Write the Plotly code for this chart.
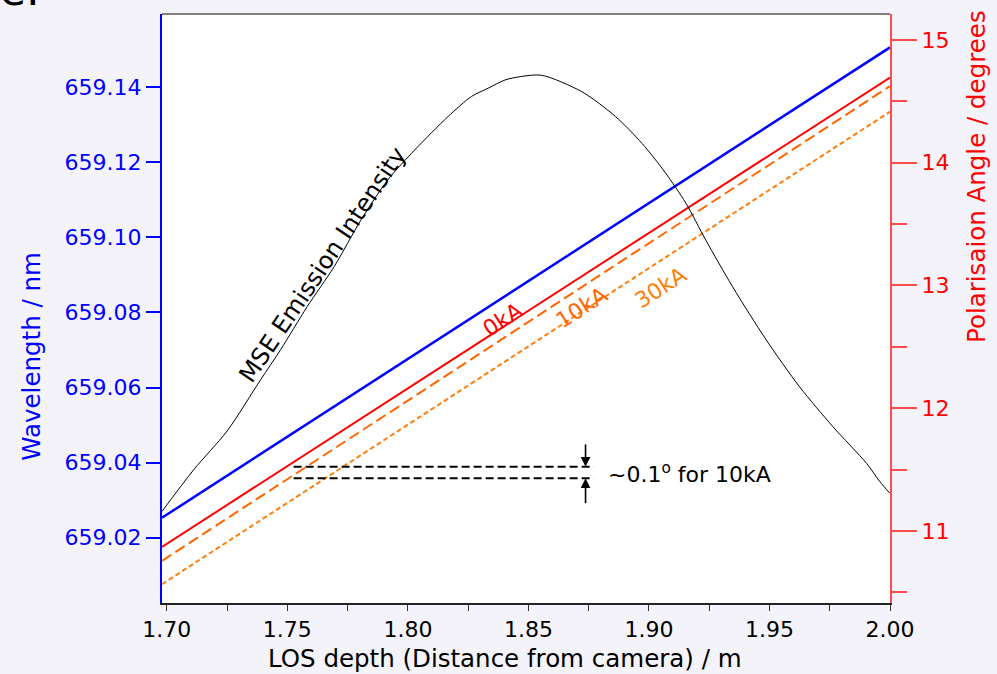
import plotly.graph_objects as go

# ---------------- data ----------------
depth_ends = [1.698, 2.0]                    # LOS depth / m (line end points)
wavelength = [659.0253, 659.1506]            # nm (blue, left axis)
angle_0kA = [10.870, 14.694]                 # degrees (right axis)
angle_10kA = [10.756, 14.625]
angle_30kA = [10.566, 14.416]

mse_depth = [1.6979, 1.7111, 1.725, 1.7389, 1.7472, 1.7582, 1.7694, 1.7805,
             1.7916, 1.8028, 1.8167, 1.8264, 1.8333, 1.8403, 1.8472, 1.8555,
             1.8722, 1.8861, 1.8972, 1.9069, 1.9153, 1.9236, 1.9347, 1.9486,
             1.9625, 1.9764, 1.9903, 1.9958, 2.0]
mse_intensity = [0.155, 0.226, 0.292, 0.379, 0.430, 0.503, 0.571, 0.650,
                 0.718, 0.769, 0.826, 0.860, 0.874, 0.888, 0.894, 0.896,
                 0.868, 0.826, 0.780, 0.730, 0.679, 0.616, 0.537, 0.447,
                 0.367, 0.299, 0.237, 0.206, 0.186]

x_ticks = [1.70, 1.75, 1.80, 1.85, 1.90, 1.95, 2.00]
wl_ticks = [659.02, 659.04, 659.06, 659.08, 659.10, 659.12, 659.14]
ang_ticks = [11, 12, 13, 14, 15]

bracket_x = [1.7526, 1.8771]                 # "~0.1 deg" marker lines
bracket_y = [11.524, 11.429]
arrow_x = 1.8737
arrow_tail = [11.716, 11.214]

FONT = "DejaVu Sans"
BLUE = "#0000ff"
RED = "#ff0000"
RED_AX = "#ff4d4d"
ORANGE_D = "#ff6600"
ORANGE_S = "#ff7f0e"

fig = go.Figure()

# MSE emission intensity (hidden 3rd axis)
fig.add_trace(go.Scatter(x=mse_depth, y=mse_intensity, mode="lines",
                         line=dict(color="black", width=1, shape="spline",
                                   smoothing=0.8), yaxis="y3",
                         showlegend=False, hoverinfo="skip"))
# wavelength
fig.add_trace(go.Scatter(x=depth_ends, y=wavelength, mode="lines",
                         line=dict(color=BLUE, width=2.5), yaxis="y",
                         showlegend=False))
# angles
fig.add_trace(go.Scatter(x=depth_ends, y=angle_0kA, mode="lines",
                         line=dict(color=RED, width=2), yaxis="y2",
                         showlegend=False))
fig.add_trace(go.Scatter(x=depth_ends, y=angle_10kA, mode="lines",
                         line=dict(color=ORANGE_D, width=2, dash="11px,5px"),
                         yaxis="y2", showlegend=False))
fig.add_trace(go.Scatter(x=depth_ends, y=angle_30kA, mode="lines",
                         line=dict(color=ORANGE_S, width=2, dash="5px,3px"),
                         yaxis="y2", showlegend=False))
# bracket dashed lines
for yv in bracket_y:
    fig.add_trace(go.Scatter(x=bracket_x, y=[yv, yv], mode="lines",
                             line=dict(color="black", width=2, dash="8px,4px"),
                             yaxis="y2", showlegend=False))

annotations = []
for tail, head in zip(arrow_tail, bracket_y):
    annotations.append(dict(x=arrow_x, y=head, ax=arrow_x, ay=tail,
                            xref="x", yref="y2", axref="x", ayref="y2",
                            text="", showarrow=True, arrowhead=2,
                            arrowsize=1.2, arrowwidth=1.6, arrowcolor="black"))

annotations += [
    dict(x=1.882, y=11.472, xref="x", yref="y2", text="~0.1<sup>o</sup> for 10kA",
         showarrow=False, xanchor="left", yanchor="middle",
         font=dict(family=FONT, size=22, color="black")),
    dict(x=1.7646, y=0.574, xref="x", yref="paper", text="MSE Emission Intensity",
         showarrow=False, textangle=-56,
         font=dict(family=FONT, size=24, color="black")),
    dict(x=1.8395, y=12.72, xref="x", yref="y2", text="0kA", showarrow=False,
         textangle=-33, font=dict(family=FONT, size=22, color=RED)),
    dict(x=1.8722, y=12.817, xref="x", yref="y2", text="10kA", showarrow=False,
         textangle=-33, font=dict(family=FONT, size=22, color=ORANGE_D)),
    dict(x=1.9050, y=12.98, xref="x", yref="y2", text="30kA", showarrow=False,
         textangle=-33, font=dict(family=FONT, size=22, color=ORANGE_S)),
    # axis titles
    dict(x=-0.179, y=0.4194, xref="paper", yref="paper", text="Wavelength / nm",
         showarrow=False, textangle=-90, xanchor="center", yanchor="middle",
         font=dict(family=FONT, size=24.5, color=BLUE)),
    dict(x=1.1195, y=0.725, xref="paper", yref="paper",
         text="Polarisaion Angle / degrees", showarrow=False, textangle=-90,
         xanchor="center", yanchor="middle",
         font=dict(family=FONT, size=24.5, color=RED)),
    dict(x=0.471, y=-0.0934, xref="paper", yref="paper",
         text="LOS depth (Distance from camera) / m", showarrow=False,
         xanchor="center", yanchor="middle",
         font=dict(family=FONT, size=24.5, color="black")),
    dict(x=-0.2253, y=0.995, xref="paper", yref="paper", text="e:",
         showarrow=False, xanchor="left", yanchor="bottom",
         font=dict(family=FONT, size=42, color="black")),
]

fig.update_layout(
    width=997, height=674,
    margin=dict(l=162, r=107, t=14, b=71),
    paper_bgcolor="#f3f3f9", plot_bgcolor="white",
    font=dict(family=FONT),
    xaxis=dict(range=[1.698, 2.0], tickvals=x_ticks, tickformat=".2f",
               ticks="outside", ticklen=6, tickwidth=1.2, tickcolor="#333333",
               tickfont=dict(family=FONT, size=22, color="black"),
               showline=True, linecolor="#222222", linewidth=1.5,
               showgrid=False, zeroline=False,
               minor=dict(dtick=0.025, tick0=1.7, ticks="outside", ticklen=6,
                          tickwidth=1.2, tickcolor="#333333", showgrid=False)),
    yaxis=dict(range=[659.0026, 659.1595], tickvals=wl_ticks, tickformat=".2f",
               ticks="outside", ticklen=14, tickwidth=2, tickcolor=BLUE,
               tickfont=dict(family=FONT, size=22, color=BLUE),
               showline=True, linecolor=BLUE, linewidth=2,
               showgrid=False, zeroline=False),
    yaxis2=dict(range=[10.413, 15.212], tickvals=ang_ticks, overlaying="y",
                side="right", ticks="outside", ticklen=25, tickwidth=1.5,
                tickcolor=RED_AX,
                tickfont=dict(family=FONT, size=22, color=RED),
                showline=True, linecolor=RED_AX, linewidth=2,
                showgrid=False, zeroline=False,
                minor=dict(dtick=0.5, tick0=10.5, ticks="outside", ticklen=15,
                           tickwidth=1.5, tickcolor=RED_AX, showgrid=False)),
    yaxis3=dict(range=[0, 1], overlaying="y", visible=False),
    annotations=annotations,
    shapes=[dict(type="line", xref="paper", yref="paper", x0=0, x1=1, y0=1, y1=1,
                 line=dict(color="#808080", width=2))],
)

fig.write_html("out.html")
